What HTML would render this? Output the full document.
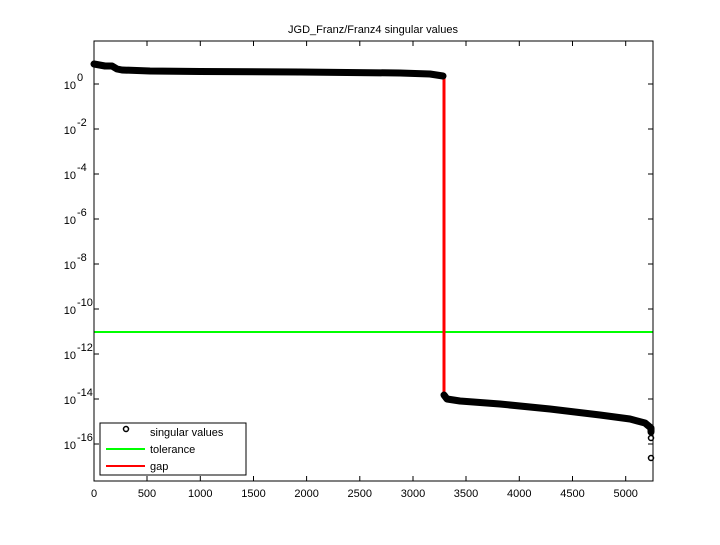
<!DOCTYPE html>
<html><head><style>body{margin:0;background:#fff}svg text{font-family:"Liberation Sans",sans-serif;font-size:11px}</style></head><body>
<svg width="720" height="540" xmlns="http://www.w3.org/2000/svg">
<rect width="720" height="540" fill="#fff"/>
<text x="373" y="33" text-anchor="middle">JGD_Franz/Franz4 singular values</text>
<line x1="94" y1="332" x2="653" y2="332" stroke="#00ff00" stroke-width="2"/>
<line x1="444" y1="78" x2="444" y2="395" stroke="#ff0000" stroke-width="3"/>
<path d="M94,64 L105,66 L112,66 L117,69 L122,70 L150,71 L200,71.5 L300,72 L400,73 L430,74 L443,76" fill="none" stroke="#000" stroke-width="7" stroke-linejoin="round" stroke-linecap="round"/>
<path d="M444,395 L447,399 L460,401 L500,404 L550,409 L600,415 L630,419 L645,423 L651,428 L651,432" fill="none" stroke="#000" stroke-width="7" stroke-linejoin="round" stroke-linecap="round"/>
<circle cx="651" cy="438" r="2.5" fill="none" stroke="#000" stroke-width="1.5"/>
<circle cx="651" cy="458" r="2.5" fill="none" stroke="#000" stroke-width="1.5"/>
<rect x="94" y="41" width="559" height="440" fill="none" stroke="#000"/>
<g stroke="#000">
<line x1="94" y1="481" x2="94" y2="476"/><line x1="147" y1="481" x2="147" y2="476"/><line x1="200.3" y1="481" x2="200.3" y2="476"/><line x1="253.5" y1="481" x2="253.5" y2="476"/><line x1="306.6" y1="481" x2="306.6" y2="476"/><line x1="359.8" y1="481" x2="359.8" y2="476"/><line x1="413" y1="481" x2="413" y2="476"/><line x1="466" y1="481" x2="466" y2="476"/><line x1="519.3" y1="481" x2="519.3" y2="476"/><line x1="572.5" y1="481" x2="572.5" y2="476"/><line x1="625.7" y1="481" x2="625.7" y2="476"/>
<line x1="94" y1="41" x2="94" y2="46"/><line x1="147" y1="41" x2="147" y2="46"/><line x1="200.3" y1="41" x2="200.3" y2="46"/><line x1="253.5" y1="41" x2="253.5" y2="46"/><line x1="306.6" y1="41" x2="306.6" y2="46"/><line x1="359.8" y1="41" x2="359.8" y2="46"/><line x1="413" y1="41" x2="413" y2="46"/><line x1="466" y1="41" x2="466" y2="46"/><line x1="519.3" y1="41" x2="519.3" y2="46"/><line x1="572.5" y1="41" x2="572.5" y2="46"/><line x1="625.7" y1="41" x2="625.7" y2="46"/>
<line x1="94" y1="84" x2="99" y2="84"/><line x1="94" y1="129" x2="99" y2="129"/><line x1="94" y1="174" x2="99" y2="174"/><line x1="94" y1="219" x2="99" y2="219"/><line x1="94" y1="264" x2="99" y2="264"/><line x1="94" y1="309" x2="99" y2="309"/><line x1="94" y1="354" x2="99" y2="354"/><line x1="94" y1="399" x2="99" y2="399"/><line x1="94" y1="444" x2="99" y2="444"/>
<line x1="653" y1="84" x2="648" y2="84"/><line x1="653" y1="129" x2="648" y2="129"/><line x1="653" y1="174" x2="648" y2="174"/><line x1="653" y1="219" x2="648" y2="219"/><line x1="653" y1="264" x2="648" y2="264"/><line x1="653" y1="309" x2="648" y2="309"/><line x1="653" y1="354" x2="648" y2="354"/><line x1="653" y1="399" x2="648" y2="399"/><line x1="653" y1="444" x2="648" y2="444"/>
</g>
<g text-anchor="middle">
<text x="94" y="497">0</text><text x="147" y="497">500</text><text x="200.3" y="497">1000</text><text x="253.5" y="497">1500</text><text x="306.6" y="497">2000</text><text x="359.8" y="497">2500</text><text x="413" y="497">3000</text><text x="466" y="497">3500</text><text x="519.3" y="497">4000</text><text x="572.5" y="497">4500</text><text x="625.7" y="497">5000</text>
</g>
<g text-anchor="end">
<text x="76" y="89">10</text><text x="76" y="134">10</text><text x="76" y="179">10</text><text x="76" y="224">10</text><text x="76" y="269">10</text><text x="76" y="314">10</text><text x="76" y="359">10</text><text x="76" y="404">10</text><text x="76" y="449">10</text>
</g>
<g font-size="8" style="font-size:8px">
<text x="77" y="81">0</text><text x="77" y="126">-2</text><text x="77" y="171">-4</text><text x="77" y="216">-6</text><text x="77" y="261">-8</text><text x="77" y="306">-10</text><text x="77" y="351">-12</text><text x="77" y="396">-14</text><text x="77" y="441">-16</text>
</g>
<rect x="100" y="423" width="146" height="52" fill="#fff" stroke="#000"/>
<circle cx="126" cy="429" r="2.5" fill="none" stroke="#000" stroke-width="1.5"/>
<text x="150" y="436">singular values</text>
<line x1="106" y1="449" x2="145" y2="449" stroke="#00ff00" stroke-width="2"/>
<text x="150" y="453">tolerance</text>
<line x1="106" y1="466" x2="145" y2="466" stroke="#ff0000" stroke-width="2"/>
<text x="150" y="470">gap</text>
</svg>
</body></html>
